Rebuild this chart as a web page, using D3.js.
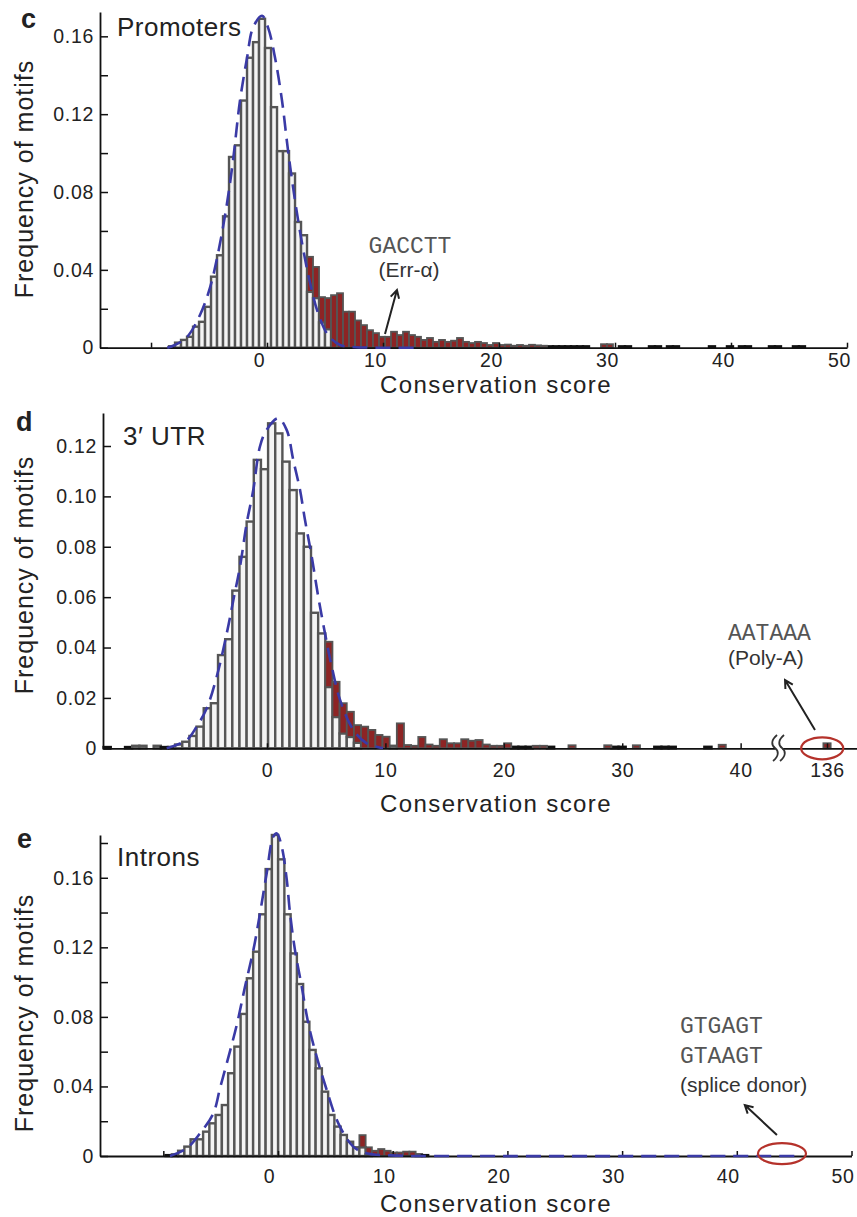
<!DOCTYPE html>
<html><head><meta charset="utf-8">
<script src="https://cdn.jsdelivr.net/npm/d3@7"></script>
<style>
html,body{margin:0;padding:0;background:#fff;}
svg{display:block;}
text{font-family:"Liberation Sans",Arial,Helvetica,sans-serif;fill:#222;}
</style></head><body>
<svg id="chart" width="857" height="1217"></svg>
<script>
// ---------- Panel c: Promoters ----------
const promoterBinStart = -8.448, promoterBinWidth = 0.5172;
const promoterFreq = [
 0.0006,0.0026,0.004,0.0056,0.0108,0.0133,0.021,0.0365,0.0475,0.0675,
 0.098,0.104,0.127,0.149,0.157,0.169,0.154,0.1236,0.101,0.101,
 0.0895,0.0646,0.0578,0.0467,0.0415,0.026,0.0255,0.027,0.028,0.0185,
 0.0185,0.014,0.0116,0.009,0.0075,0.0056,0.0056,0.0082,0.0065,0.0082,
 0.0065,0.0056,0.004,0.005,0.003,0.004,0.003,0.0036,0.005,0.003,
 0.0024,0.003,0.0024,0.0014,0.0024,0.0014,0.0016,0.001,0.0014,0.001,
 0.0015,0.0012,0.001,0.0007,0.0007,0.0007,0.0007,0.0007,0.0007,0.0007,
 0,0,0.0018,0.0018,0,0.0007,0.0007,0,0,0,
 0.0007,0.0007,0,0.0007,0.0007,0,0,0,0,0,
 0.0007,0,0,0.0007,0,0.0007,0.0007,0,0,0,
 0.0007,0.0007,0,0,0.0007,0.0007];
const promoterRed = [
 0,0,0,0,0,0,0,0,0,0,
 0,0,0,0,0,0,0,0,0,0,
 0,0,0,0.018,0.016,0.013,0.016,0.027,0.028,0.0185,
 0.0185,0.014,0.0116,0.009,0.0075,0.0056,0.0056,0.0082,0.0065,0.0082,
 0.0065,0.0056,0.004,0.005,0.003,0.004,0.003,0.0036,0.005,0.003,
 0.0024,0.003,0.0024,0.0014,0.0024,0.0014,0.0016,0.001,0.0014,0.001,
 0.0015,0.0012,0.001,0,0,0,0,0,0,0,
 0,0,0.0018,0.0018,0,0,0,0,0,0];
const promoterFit = [[-8.6,0],[-7.93,0.0014],[-6.90,0.0055],[-5.78,0.0168],[-4.91,0.031],[-4.22,0.0486],[-3.45,0.0742],
 [-2.93,0.0963],[-2.33,0.127],[-1.72,0.149],[-1.21,0.1645],[-0.43,0.1706],[0.09,0.1645],[0.69,0.149],
 [1.29,0.127],[1.81,0.1014],[2.41,0.0757],[3.02,0.0537],[3.71,0.0332],[4.40,0.0178],[5.26,0.0065],
 [6.29,0.0014],[7.41,0.0004],[9.5,0],[13.2,0]];
const promoterYTicks = [0,0.02,0.04,0.06,0.08,0.10,0.12,0.14,0.16];
const promoterYLabels = [0,0.04,0.08,0.12,0.16];
const promoterXTicks = [-10,0,10,20,30,40,50];
const promoterXLabels = [0,10,20,30,40,50];

// ---------- Panel d: 3' UTR ----------
const utrBinStart = -13.80, utrBinWidth = 0.604;
const utrFreq = [
 0.0005,0,0,0.0005,0.001,0.001,0,0.001,0.0005,0.0005,
 0.0015,0.0026,0.0049,0.0086,0.0159,0.0179,0.037,0.0433,0.0626,0.076,
 0.090,0.1145,0.1108,0.129,0.125,0.1138,0.1025,0.0853,0.080,0.0538,
 0.0456,0.0423,0.0264,0.0179,0.0145,0.0092,0.0086,0.0073,0.0053,0.0046,
 0.001,0.0099,0.0013,0.001,0.0045,0.0015,0.001,0.0036,0.002,0.002,
 0.0036,0.003,0.0033,0.0015,0.001,0.001,0.002,0.0006,0.0006,0.0006,
 0.001,0.001,0.0006,0,0,0.0012,0,0,0,0,
 0.0012,0.0006,0.0006,0,0.0012,0,0,0.0006,0.0006,0.0006,
 0,0,0,0,0.0006,0,0.0014,0];
const utrRed = [
 0,0,0,0,0,0,0,0,0,0,
 0,0,0,0,0,0,0,0,0,0,
 0,0,0,0,0,0,0,0,0,0,
 0,0.018,0.014,0.012,0.01,0.007,0.0086,0.0073,0.0053,0.0046,
 0,0.0099,0.0013,0.001,0.0045,0.0015,0.001,0.0036,0.002,0.002,
 0.0036,0.003,0.0033,0.0015,0.001,0.001,0.002,0,0,0,
 0.001,0.001,0,0,0,0.0012,0,0,0,0,
 0.0012,0,0,0,0.0012,0,0,0,0,0,
 0,0,0,0,0,0,0.0014,0];
const utrFarBinStart = [135.7];
const utrFarFreq = [0.002];
const utrFarRed = [0.002];
const utrFit = [[-8.47,0],[-6.78,0.0033],[-5.94,0.0086],[-5.09,0.0159],[-4.25,0.0284],[-3.40,0.0456],
 [-2.84,0.0589],[-2.28,0.0721],[-1.71,0.0894],[-1.16,0.1025],[-0.59,0.1199],[-0.03,0.1264],[0.95,0.131],
 [1.66,0.1264],[2.22,0.1144],[2.79,0.1025],[3.21,0.0906],[3.78,0.076],[4.33,0.0601],[4.90,0.0456],
 [5.47,0.0324],[6.17,0.0192],[7.29,0.0073],[8.42,0.002],[9.80,0]];
const utrYTicks = [0,0.02,0.04,0.06,0.08,0.10,0.12];
const utrYLabels = [0,0.02,0.04,0.06,0.08,0.10,0.12];
const utrXTicks = [0,10,20,30,40,136];

// ---------- Panel e: Introns ----------
const intronBinStart = -9.80, intronBinWidth = 0.545;
const intronFreq = [
 0.0005,0.0008,0.003,0.0054,0.0096,0.0096,0.014,0.0188,0.0236,0.0293,
 0.0476,0.0629,0.0817,0.1022,0.1175,0.139,0.165,0.1846,0.1706,0.139,
 0.1165,0.0989,0.0772,0.061,0.0504,0.037,0.0236,0.0169,0.0121,0.0082,
 0.005,0.012,0.005,0.003,0.004,0.003,0.002,0.002,0.0025,0.0025,
 0.001,0.0005];
const intronRed = [
 0,0,0,0,0,0,0,0,0,0,
 0,0,0,0,0,0,0,0,0,0,
 0,0,0,0,0,0,0,0,0,0,
 0,0.007,0.004,0.003,0.004,0.003,0.002,0.002,0.0025,0.0025,
 0,0];
const intronFit = [[-9.42,0],[-7.96,0.0044],[-6.80,0.013],[-5.64,0.0245],[-5.06,0.0389],[-4.47,0.0533],
 [-3.60,0.0753],[-2.88,0.0973],[-2.15,0.1184],[-1.57,0.1395],[-0.99,0.1625],[-0.41,0.1836],[-0.1,0.1855],
 [0.32,0.178],[0.76,0.159],[1.05,0.1395],[1.48,0.1184],[2.07,0.0973],[2.64,0.0763],[3.37,0.0571],
 [4.25,0.0379],[5.26,0.0188],[6.56,0.0054],[7.73,0.0016],[10.6,0.0002],[15,0],[45.5,0]];
const intronYTicks = [0,0.02,0.04,0.06,0.08,0.10,0.12,0.14,0.16,0.18];
const intronYLabels = [0,0.04,0.08,0.12,0.16];
const intronXTicks = [-10,0,10,20,30,40,50];
const intronXLabels = [0,10,20,30,40,50];

// ---------- drawing ----------
const svg = d3.select('#chart');
const BAR_STROKE = '#555', BAR_FILL = '#f4f4f4', RED = '#8d2424', FIT = '#3a3aa6';
const MONO = '"Liberation Mono","DejaVu Sans Mono",monospace';

function fmtTick(labels){
  return d => {
    if (!labels.some(l => Math.abs(l - d) < 1e-9)) return '';
    return d === 0 ? '0' : d3.format('.2f')(d);
  };
}

function drawBars(g, x, y, starts, width, freq, red){
  const bins = freq.map((v,i)=>({x0: starts(i), x1: starts(i)+width, v, r: red[i]||0})).filter(d=>d.v>0);
  const tiny = d => d.v < 0.0009 && d.r === 0;
  g.append('g').selectAll('rect').data(bins.filter(d=>d.v-d.r>0)).join('rect')
    .attr('x', d=>x(d.x0)).attr('width', d=>x(d.x1)-x(d.x0))
    .attr('y', d=>y(d.v-d.r)).attr('height', d=>y(0)-y(d.v-d.r))
    .attr('fill', d=>tiny(d)?'#222':BAR_FILL)
    .attr('stroke', d=>tiny(d)?'#111':BAR_STROKE).attr('stroke-width',2.4);
  g.append('g').selectAll('rect').data(bins.filter(d=>d.r>0)).join('rect')
    .attr('x', d=>x(d.x0)).attr('width', d=>x(d.x1)-x(d.x0))
    .attr('y', d=>y(d.v)).attr('height', d=>y(d.v-d.r)-y(d.v))
    .attr('fill', RED).attr('stroke', BAR_STROKE).attr('stroke-width',1.8);
}

function drawPanel(cfg){
  const g = svg.append('g');
  const {x, y} = cfg;
  drawBars(g, x, y, i=>cfg.binStart + i*cfg.binWidth, cfg.binWidth, cfg.freq, cfg.red);
  if (cfg.extraBars) drawBars(g, x, y, i=>cfg.extraBars.start[i], cfg.binWidth, cfg.extraBars.freq, cfg.extraBars.red);

  // y axis
  const ya = g.append('g').attr('transform',`translate(${x.range()[0]},0)`)
    .call(d3.axisLeft(y).tickValues(cfg.yTicks).tickSizeInner(-8).tickSizeOuter(0).tickPadding(6).tickFormat(fmtTick(cfg.yLabels)));
  // x axis
  const xa = g.append('g').attr('transform',`translate(0,${y(0)})`)
    .call(d3.axisBottom(x).tickValues(cfg.xTicks).tickSizeInner(-5).tickSizeOuter(0).tickFormat(cfg.xFmt));
  [ya, xa].forEach(a=>{
    a.select('.domain').attr('stroke','#111').attr('stroke-width',1.8);
    a.selectAll('.tick line').attr('stroke','#111').attr('stroke-width',1.5);
    a.selectAll('.tick text').style('font-size','19.5px').style('letter-spacing','0.7px');
  });
  xa.selectAll('.tick text').attr('y', cfg.xLabelOffset).attr('dy', 0).attr('dx', cfg.xLabelShift);

  if (cfg.afterAxes) cfg.afterAxes(g);

  // fitted distribution
  g.append('path').datum(cfg.fit)
    .attr('d', d3.line().x(d=>x(d[0])).y(d=>y(d[1])).curve(d3.curveCatmullRom))
    .attr('fill','none').attr('stroke',FIT).attr('stroke-width',2.6)
    .attr('stroke-dasharray','15,8');

  // texts
  g.append('text').attr('x',cfg.letter[0]).attr('y',cfg.letter[1]).style('font-size','27px').style('font-weight','bold').text(cfg.letter[2]);
  g.append('text').attr('x',cfg.title[0]).attr('y',cfg.title[1]).style('font-size','26px').style('letter-spacing','0.5px').text(cfg.title[2]);
  g.append('text').attr('transform',`translate(33,${cfg.yTitleY}) rotate(-90)`).attr('text-anchor','middle')
    .style('font-size','25px').style('letter-spacing','1px').text('Frequency of motifs');
  g.append('text').attr('x',496).attr('y',cfg.xTitleY).attr('text-anchor','middle')
    .style('font-size','24px').style('letter-spacing','1.4px').text('Conservation score');

  // annotation
  const an = cfg.annot;
  an.lines.forEach(l=>{
    const t = g.append('text').attr('x',l.x).attr('y',l.y).attr('text-anchor',l.anchor||'start')
      .style('font-size', l.mono?'23px':'21px')
      .style('fill', l.mono?'#555':'#333').text(l.t);
    if (l.mono) t.style('font-family', MONO);
  });
  const tx = x(an.arrow[0][0]), ty = y(an.arrow[0][1]), hx = x(an.arrow[1][0]), hy = y(an.arrow[1][1]);
  const ang = Math.atan2(ty-hy, tx-hx), L = 9, a = 0.5;
  g.append('path').attr('d',`M${tx},${ty}L${hx},${hy}M${hx+L*Math.cos(ang-a)},${hy+L*Math.sin(ang-a)}L${hx},${hy}L${hx+L*Math.cos(ang+a)},${hy+L*Math.sin(ang+a)}`)
    .attr('fill','none').attr('stroke','#222').attr('stroke-width',2);
  if (an.ellipse){
    g.append('ellipse').attr('cx',x(an.ellipse[0])).attr('cy',y(an.ellipse[1]))
      .attr('rx',an.ellipse[2]).attr('ry',an.ellipse[3])
      .attr('fill','none').attr('stroke','#b5322b').attr('stroke-width',2.2);
  }
}

// Panel c
drawPanel({
  x: d3.scaleLinear().domain([-14.4,50]).range([100,847]),
  y: d3.scaleLinear().domain([0,0.1725]).range([347.7,12]),
  binStart: promoterBinStart, binWidth: promoterBinWidth, freq: promoterFreq, red: promoterRed,
  fit: promoterFit, yTicks: promoterYTicks, yLabels: promoterYLabels, xTicks: promoterXTicks,
  xFmt: d => promoterXLabels.includes(d) ? String(d) : '', xLabelOffset: 19.5, xLabelShift: -8,
  letter: [21,28,'c'], title: [117,36,'Promoters'], yTitleY: 179, xTitleY: 393,
  annot: {
    lines: [{x:410,y:253,t:'GACCTT',mono:true,anchor:'middle'},{x:409,y:277,t:'(Err-α)',anchor:'middle'}],
    arrow: [[10.17,0.007],[11.2,0.0296]]
  }
});

// Panel d
const utrX = d3.scaleLinear().domain([-13.85,44,134,138.5]).range([103,788,803,857]);
drawPanel({
  x: utrX,
  y: d3.scaleLinear().domain([0,0.1331]).range([748.3,413]),
  binStart: utrBinStart, binWidth: utrBinWidth, freq: utrFreq, red: utrRed,
  extraBars: {start: utrFarBinStart, freq: utrFarFreq, red: utrFarRed},
  fit: utrFit, yTicks: utrYTicks, yLabels: utrYLabels, xTicks: utrXTicks,
  xFmt: d => String(d), xLabelOffset: 29.2, xLabelShift: 0,
  letter: [16,431,'d'], title: [123,445,'3\u2032 UTR'], yTitleY: 575, xTitleY: 812,
  annot: {
    lines: [{x:728,y:640,t:'AATAAA',mono:true},{x:728,y:665,t:'(Poly-A)'}],
    arrow: [[135.0,0.0073],[43.75,0.0271]],
    ellipse: [135.6,0,21,11]
  },
  afterAxes: g => {
    const bx = utrX(43.2);
    g.append('rect').attr('x',bx-3).attr('y',745).attr('width',7).attr('height',7).attr('fill','#fff');
    [bx-3.5, bx+3.5].forEach(cx=>{
      g.append('path').attr('d',`M${cx+2},735C${cx-4},740 ${cx-4},745 ${cx},748C${cx+4},751 ${cx+4},756 ${cx-2},761`)
        .attr('fill','none').attr('stroke','#333').attr('stroke-width',1.8);
    });
  }
});

// Panel e
drawPanel({
  x: d3.scaleLinear().domain([-15.52,50]).range([100,851.5]),
  y: d3.scaleLinear().domain([0,0.1846]).range([1156,835]),
  binStart: intronBinStart, binWidth: intronBinWidth, freq: intronFreq, red: intronRed,
  fit: intronFit, yTicks: intronYTicks, yLabels: intronYLabels, xTicks: intronXTicks,
  xFmt: d => intronXLabels.includes(d) ? String(d) : '', xLabelOffset: 26.5, xLabelShift: -9,
  letter: [17,848,'e'], title: [117,866,'Introns'], yTitleY: 1013, xTitleY: 1212,
  annot: {
    lines: [{x:680,y:1033,t:'GTGAGT',mono:true},{x:680,y:1063,t:'GTAAGT',mono:true},{x:680,y:1092,t:'(splice donor)'}],
    arrow: [[43.5,0.0121],[40.7,0.0293]],
    ellipse: [43.94,0.0014,24,10.5]
  }
});
</script></body></html>
